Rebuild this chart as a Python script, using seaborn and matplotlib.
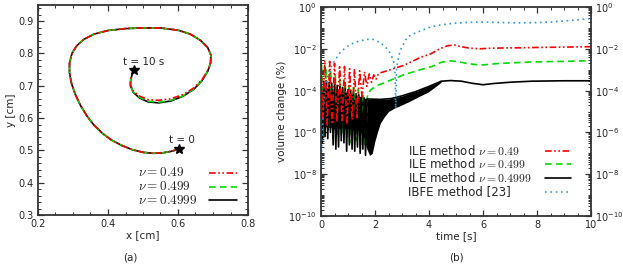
import numpy as np
import seaborn as sns
import matplotlib.pyplot as plt
from matplotlib.ticker import MultipleLocator, LogLocator, FixedLocator, NullFormatter

# ---------------- DATA ----------------
# (a) tip trajectory, nu = 0.4999 (black)
traj_x = [0.603, 0.58, 0.555, 0.53, 0.50, 0.47, 0.44, 0.41, 0.385, 0.36, 0.34,
          0.322, 0.307, 0.296, 0.290, 0.290, 0.297, 0.310, 0.330, 0.360, 0.40,
          0.45, 0.50, 0.55, 0.60, 0.635, 0.665, 0.685, 0.694, 0.693, 0.685,
          0.668, 0.645, 0.615, 0.58, 0.545, 0.515, 0.49, 0.472, 0.464, 0.465,
          0.47, 0.474]
traj_y = [0.504, 0.497, 0.492, 0.491, 0.494, 0.502, 0.515, 0.532, 0.552, 0.578,
          0.606, 0.638, 0.672, 0.706, 0.74, 0.77, 0.80, 0.823, 0.843, 0.86,
          0.871, 0.877, 0.879, 0.879, 0.872, 0.86, 0.84, 0.818, 0.795, 0.77,
          0.745, 0.715, 0.689, 0.668, 0.653, 0.647, 0.65, 0.662, 0.68, 0.70,
          0.72, 0.738, 0.748]
# nu = 0.49 / 0.499 drift slightly upward on the inner loop
traj_y_049 = [0.504, 0.497, 0.492, 0.491, 0.494, 0.502, 0.515, 0.532, 0.552, 0.578,
              0.606, 0.638, 0.672, 0.706, 0.74, 0.77, 0.80, 0.823, 0.843, 0.86,
              0.871, 0.877, 0.879, 0.879, 0.872, 0.86, 0.84, 0.818, 0.795, 0.771,
              0.747, 0.718, 0.693, 0.673, 0.66, 0.655, 0.657, 0.668, 0.684, 0.703,
              0.722, 0.739, 0.748]
traj_y_0499 = [0.504, 0.497, 0.492, 0.491, 0.494, 0.502, 0.515, 0.532, 0.552, 0.578,
               0.606, 0.638, 0.672, 0.706, 0.74, 0.77, 0.80, 0.823, 0.843, 0.86,
               0.871, 0.877, 0.879, 0.879, 0.872, 0.86, 0.84, 0.818, 0.795, 0.77,
               0.745, 0.716, 0.690, 0.669, 0.655, 0.649, 0.652, 0.664, 0.681, 0.701,
               0.721, 0.738, 0.748]
start_pt = (0.603, 0.504)
end_pt = (0.474, 0.748)

# (b) volume change, log10 of percent
red_t = [0.00, 0.07, 0.14, 0.23, 0.32, 0.41, 0.50, 0.59, 0.69, 0.78, 0.87,
         0.96, 1.06, 1.15, 1.24, 1.33, 1.43, 1.52, 1.61, 1.70, 1.785,
         1.87, 1.955, 2.04, 2.125, 2.2, 2.45, 2.75, 3.05, 3.3, 3.7, 4.05, 4.4,
         4.7, 4.95, 5.2, 5.5, 5.9, 6.3, 6.8, 7.5, 8.2, 9.0, 10.0]
red_log = [-2.5, -5.3, -2.55, -5.7, -2.6, -5.6, -2.7, -5.5, -2.8, -5.5, -2.85,
           -5.6, -2.95, -5.4, -3.0, -5.3, -3.05, -4.3, -3.1, -3.8, -3.2,
           -3.6, -3.25, -3.45, -3.2, -3.15, -3.05, -2.92, -2.8, -2.65, -2.4, -2.25,
           -2.0, -1.85, -1.82, -1.9, -1.97, -2.0, -1.97, -1.96, -1.95, -1.93,
           -1.92, -1.9]

green_t = [0.02, 0.11, 0.19, 0.275, 0.36, 0.445, 0.53, 0.615, 0.70, 0.785, 0.87,
           0.955, 1.04, 1.125, 1.21, 1.295, 1.38, 1.465, 1.55, 1.635, 1.72, 1.85,
           2.1, 2.45, 3.05, 3.68, 4.1, 4.45, 4.75, 5.1, 5.4, 5.9, 6.6, 7.8, 9.0,
           10.0]
green_log = [-2.75, -6.2, -2.95, -5.9, -3.1, -6.3, -3.3, -6.1, -3.45, -6.0, -3.6,
             -6.2, -3.7, -6.5, -3.85, -6.4, -3.95, -6.8, -4.1, -6.7, -4.2, -3.95,
             -3.75, -3.57, -3.25, -3.0, -2.85, -2.65, -2.57, -2.62, -2.7, -2.78,
             -2.7, -2.63, -2.6, -2.57]

black_t = [0.0, 0.05, 0.1, 0.15, 0.2, 0.25, 0.3, 0.35, 0.4, 0.45, 0.5, 0.55, 0.6,
           0.65, 0.7, 0.75, 0.8, 0.85, 0.9, 0.95, 1.0, 1.05, 1.1, 1.15, 1.2, 1.25,
           1.3, 1.35, 1.4, 1.45, 1.5, 1.55, 1.6, 1.65, 1.7, 2.2, 2.6, 3.0, 3.5,
           4.0, 4.45, 4.8, 5.2, 5.6, 6.0, 6.4, 7.0, 7.8, 9.0, 10.0]
black_log = [-3.5, -6.5, -3.55, -6.2, -3.55, -6.3, -3.6, -6.0, -3.65, -6.6, -3.7,
             -6.8, -3.75, -6.7, -3.8, -6.4, -3.85, -6.5, -3.9, -6.9, -3.95, -6.6,
             -4.0, -6.8, -4.05, -6.9, -4.15, -6.7, -4.2, -7.0, -4.3, -6.8, -4.35,
             -7.1, -4.4, -4.42, -4.38, -4.25, -4.05, -3.8, -3.55, -3.52, -3.55,
             -3.65, -3.72, -3.66, -3.6, -3.55, -3.53, -3.53]
# dense high-frequency oscillation band of the black curve
band_t = [0.0, 0.5, 1.0, 1.5, 1.7, 1.8, 1.9, 2.0, 2.1, 2.2, 2.35, 2.5, 2.7, 2.97,
          3.3, 3.6, 3.97, 4.3, 4.45]
band_lo = [-5.7, -5.8, -5.8, -5.9, -6.8, -7.1, -7.0, -6.4, -5.95, -5.55, -5.25,
           -5.0, -4.85, -4.7, -4.5, -4.3, -4.07, -3.75, -3.6]
band_hi = [-3.8, -3.95, -4.1, -4.3, -4.4, -4.42, -4.42, -4.42, -4.42, -4.42, -4.42,
           -4.4, -4.35, -4.27, -4.12, -4.0, -3.8, -3.62, -3.55]

blue_t = [0.0, 0.03, 0.08, 0.15, 0.25, 0.38, 0.52, 0.7, 0.89, 1.1, 1.37, 1.65, 1.89,
          2.19, 2.5, 2.68, 2.74, 2.77, 2.8, 2.88, 2.94, 3.2, 3.57, 4.05, 4.42, 4.9,
          5.4, 5.9, 6.6, 7.3, 7.85, 8.5, 9.2, 9.85, 10.0]
blue_log = [-8.2, -6.5, -5.0, -4.0, -3.3, -2.85, -2.54, -2.2, -1.96, -1.78, -1.65,
            -1.56, -1.53, -1.7, -2.06, -2.54, -2.95, -4.85, -2.9, -2.35, -2.06,
            -1.43, -1.2, -0.96, -0.86, -0.78, -0.74, -0.72, -0.74, -0.76, -0.75,
            -0.72, -0.65, -0.57, -0.55]

nu_labels = [r"$\nu = 0.49$", r"$\nu = 0.499$", r"$\nu = 0.4999$"]
vol_labels = [r"ILE method $\nu = 0.49$", r"ILE method $\nu = 0.499$",
              r"ILE method $\nu = 0.4999$", "IBFE method [23]"]

# ---------------- STYLE ----------------
sns.set_theme(style="ticks")
plt.rcParams["font.family"] = ["DejaVu Sans"]
plt.rcParams["mathtext.fontset"] = "cm"
plt.rcParams["axes.edgecolor"] = "#333333"
plt.rcParams["axes.linewidth"] = 1.3

RED = "#ff0000"
GREEN = "#00dd00"
BLUE = "#2e9ad6"
dashdotdot = (0, (4, 1.5, 1, 1.5, 1, 1.5))
red_style = dict(color=RED, linewidth=1.2, linestyle=dashdotdot)
green_style = dict(color=GREEN, linewidth=1.2, linestyle=(0, (4, 2.5)))
black_style = dict(color="black", linewidth=1.2, linestyle="-")
blue_style = dict(color=BLUE, linewidth=1.2, linestyle=(0, (1, 2.2)))


def key(ax, x_text, x0, x1, rows, labels, styles, size):
    # gnuplot-style key: label on the left, sample line on the right
    for y, lab, st in zip(rows, labels, styles):
        ax.text(x_text, y, lab, transform=ax.transAxes, ha="left", va="center",
                fontsize=size)
        ax.plot([x0, x1], [y, y], transform=ax.transAxes, clip_on=False, **st)


fig = plt.figure(figsize=(6.23, 2.65), dpi=100)
ax1 = fig.add_axes([38 / 623, 50 / 265, 210 / 623, 210 / 265])
ax2 = fig.add_axes([321 / 623, 49 / 265, 270 / 623, 209 / 265])

# ---- (a) ----
sns.lineplot(x=traj_x, y=traj_y, ax=ax1, sort=False, estimator=None, **black_style)
sns.lineplot(x=traj_x, y=traj_y_0499, ax=ax1, sort=False, estimator=None,
             **green_style)
sns.lineplot(x=traj_x, y=traj_y_049, ax=ax1, sort=False, estimator=None, **red_style)
ax1.plot(*start_pt, marker="*", color="black", markersize=7)
ax1.plot(*end_pt, marker="*", color="black", markersize=7)
ax1.text(0.503, 0.773, "t = 10 s", ha="center", va="center", fontsize=7.5)
ax1.text(0.611, 0.532, "t = 0", ha="center", va="center", fontsize=7.5)

ax1.set_xlim(0.2, 0.8)
ax1.set_ylim(0.3, 0.95)
ax1.xaxis.set_major_locator(MultipleLocator(0.2))
ax1.xaxis.set_minor_locator(MultipleLocator(0.05))
ax1.yaxis.set_major_locator(MultipleLocator(0.1))
ax1.yaxis.set_minor_locator(MultipleLocator(0.02))
ax1.set_xlabel("x [cm]", fontsize=7.5, labelpad=1)
ax1.set_ylabel("y [cm]", fontsize=7.5, labelpad=2)
key(ax1, 0.476, 0.814, 0.948, [0.2, 0.135, 0.071], nu_labels,
    [red_style, green_style, black_style], 9.5)

# ---- (b) ----
ax2.set_yscale("log")
sns.lineplot(x=green_t, y=10 ** np.array(green_log), ax=ax2, sort=False,
             estimator=None, **green_style)
ax2.fill_between(band_t, 10 ** np.array(band_lo), 10 ** np.array(band_hi),
                 color="black", linewidth=0)
sns.lineplot(x=black_t, y=10 ** np.array(black_log), ax=ax2, sort=False,
             estimator=None, **black_style)
sns.lineplot(x=blue_t, y=10 ** np.array(blue_log), ax=ax2, sort=False,
             estimator=None, **blue_style)
sns.lineplot(x=red_t, y=10 ** np.array(red_log), ax=ax2, sort=False,
             estimator=None, **red_style)

ax2.set_xlim(0, 10)
ax2.set_ylim(1e-10, 1)
ax2.xaxis.set_major_locator(MultipleLocator(2))
ax2.xaxis.set_minor_locator(MultipleLocator(0.5))
ax2.yaxis.set_major_locator(FixedLocator([1e-10, 1e-8, 1e-6, 1e-4, 1e-2, 1e0]))
ax2.yaxis.set_minor_locator(LogLocator(base=10, subs=np.arange(1, 10), numticks=100))
ax2.yaxis.set_minor_formatter(NullFormatter())
ax2.set_xlabel("time [s]", fontsize=7.5, labelpad=1)
ax2.set_ylabel("volume change (%)", fontsize=7.5, labelpad=1)
key(ax2, 0.322, 0.83, 0.926, [0.311, 0.247, 0.181, 0.115], vol_labels,
    [red_style, green_style, black_style, blue_style], 8.5)

for ax in (ax1, ax2):
    ax.tick_params(which="both", direction="in", top=True, right=True,
                   color="#333333", labelsize=7, pad=3)
    ax.tick_params(which="major", length=4, width=0.9)
    ax.tick_params(which="minor", length=2, width=0.7)
ax2.tick_params(axis="y", labelright=True)

fig.text(130 / 623, 1 - 258 / 265, "(a)", ha="center", va="center", fontsize=7.5)
fig.text(456 / 623, 1 - 258 / 265, "(b)", ha="center", va="center", fontsize=7.5)

fig.savefig("out.png", dpi=100)
